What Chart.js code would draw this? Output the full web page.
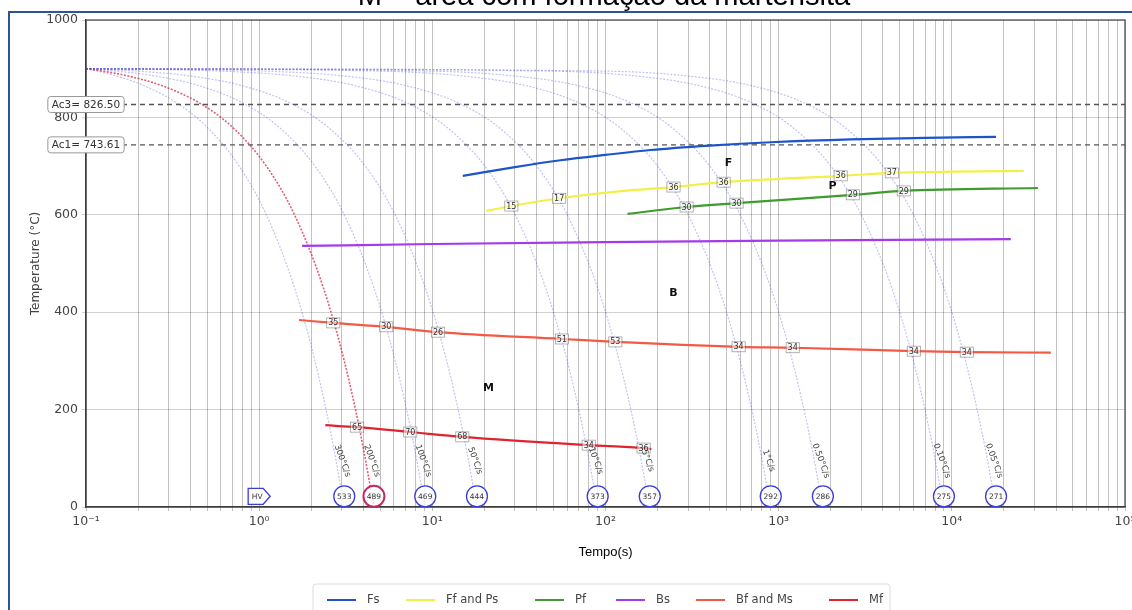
<!DOCTYPE html>
<html>
<head>
<meta charset="utf-8">
<script src="https://cdn.jsdelivr.net/npm/chart.js@4.4.1/dist/chart.umd.min.js"></script>
<style>
  html, body { margin: 0; padding: 0; background: #fff; }
  canvas { display: block; }
</style>
</head>
<body>
<canvas id="myChart" width="1132" height="610"></canvas>
<script>
// linhas de transformação (tempo s / temperatura °C)
const fsTempo = [15, 30, 55, 100, 182, 400, 900, 2600, 7000, 18000];
const fsTemp  = [680, 698, 712, 723, 733, 742, 749, 755, 758, 760];
const ffTempo = [20.5, 28.6, 54, 120, 247, 481, 2280, 4500, 26000];
const ffTemp  = [608, 618, 634, 648, 657, 667, 680, 686, 690];
const pfTempo = [134, 294, 571, 2680, 5280, 31400];
const pfTemp  = [602, 616, 624, 641, 649, 655];
const bsTempo = [1.77, 10, 100, 1000, 21900];
const bsTemp  = [536, 540, 544, 547, 550];
const bfTempo = [1.7, 2.68, 5.42, 10.8, 56, 114, 587, 1205, 6030, 12200, 37300];
const bfTemp  = [384, 378, 370, 359, 345, 339, 329, 327, 320, 318, 317];
const mfTempo = [2.41, 3.68, 7.46, 14.9, 80, 166, 184];
const mfTemp  = [168, 164, 154, 144, 127, 121, 119];

const ac3 = 826.50;
const ac1 = 743.61;

// curvas de resfriamento
const coolTemp = [900, 895, 885, 865, 830, 780, 700, 600, 450, 300, 150, 0];
const t300 = [0.1, 0.117, 0.15, 0.217, 0.333, 0.5, 0.767, 1.1, 1.6, 2.1, 2.6, 3.1];
const t200 = [0.1, 0.125, 0.175, 0.275, 0.45, 0.7, 1.1, 1.6, 2.35, 3.1, 3.85, 4.6];
const t100 = [0.1, 0.15, 0.25, 0.45, 0.8, 1.3, 2.1, 3.1, 4.6, 6.1, 7.6, 9.1];
const t50  = [0.1, 0.2, 0.4, 0.8, 1.5, 2.5, 4.1, 6.1, 9.1, 12.1, 15.1, 18.1];
const t10  = [0.1, 0.6, 1.6, 3.6, 7.1, 12.1, 20.1, 30.1, 45.1, 60.1, 75.1, 90.1];
const t5   = [0.1, 1.1, 3.1, 7.1, 14.1, 24.1, 40.1, 60.1, 90.1, 120.1, 150.1, 180.1];
const t1   = [0.1, 5, 15, 35, 70, 120, 200, 300, 450, 600, 750, 900];
const t05  = [0.1, 10, 30, 70, 140, 240, 400, 600, 900, 1200, 1500, 1800];
const t01  = [0.1, 50, 150, 350, 700, 1200, 2000, 3000, 4500, 6000, 7500, 9000];
const t005 = [0.1, 100, 300, 700, 1400, 2400, 4000, 6000, 9000, 12000, 15000, 18000];
const coolTempos = [t300, t200, t100, t50, t10, t5, t1, t05, t01, t005];
const rateTxt = ['300°C/s', '200°C/s', '100°C/s', '50°C/s', '10°C/s', '5°C/s', '1°C/s', '0.50°C/s', '0.10°C/s', '0.05°C/s'];
const hvTxt = ['533', '489', '469', '444', '373', '357', '292', '286', '275', '271'];
const critico = 1; // curva em vermelho

// percentuais marcados nas linhas
const markTempo = [28.6, 54, 247, 481, 2280, 4500, 294, 571, 2680, 5280,
  2.68, 5.42, 10.8, 56, 114, 587, 1205, 6030, 12200, 3.68, 7.46, 14.9, 80, 166];
const markTemp = [618, 634, 657, 667, 680, 686, 616, 624, 641, 649,
  378, 370, 359, 345, 339, 329, 327, 320, 318, 164, 154, 144, 127, 121];
const markTxt = ['15', '17', '36', '36', '36', '37', '30', '30', '29', '29',
  '35', '30', '26', '51', '53', '34', '34', '34', '34', '65', '70', '68', '34', '36'];

const regiaoTxt = ['F', 'P', 'B', 'M'];
const regiaoTempo = [514, 2050, 247, 21.1];
const regiaoTemp = [706, 659, 439, 244];

const legendaTxt = ['Fs', 'Ff and Ps', 'Pf', 'Bs', 'Bf and Ms', 'Mf'];
const cores = ['#1d55c9', '#f3ef4a', '#3f9a2f', '#a43be8', '#f25a46', '#e0242f'];

function pts(tx, ty) {
    return tx.map(function (t, i) { return {x: t, y: ty[i]}; });
}

const sup = {'-': '⁻', '0': '⁰', '1': '¹', '2': '²', '3': '³', '4': '⁴', '5': '⁵'};
function potencia(e) {
    return '10' + String(e).split('').map(function (c) { return sup[c]; }).join('');
}

const tickVals = [];
for (let e = -1; e <= 4; e++) {
    for (let m = 1; m <= 9; m++) tickVals.push(m * Math.pow(10, e));
}
tickVals.push(100000);

const datasets = [];
const linhas = [[fsTempo, fsTemp], [ffTempo, ffTemp], [pfTempo, pfTemp], [bsTempo, bsTemp], [bfTempo, bfTemp], [mfTempo, mfTemp]];
linhas.forEach(function (l, i) {
    datasets.push({
        label: legendaTxt[i], data: pts(l[0], l[1]),
        borderColor: cores[i], borderWidth: 2.2, pointRadius: 0,
        cubicInterpolationMode: 'monotone', order: 1
    });
});
[ac3, ac1].forEach(function (v) {
    datasets.push({
        data: [{x: 0.1, y: v}, {x: 100000, y: v}],
        borderColor: '#555', borderWidth: 1.4, borderDash: [5, 4], pointRadius: 0, order: 2
    });
});
coolTempos.forEach(function (tt, i) {
    const red = i === critico;
    datasets.push({
        data: pts(tt, coolTemp),
        borderColor: red ? 'rgba(215,40,70,0.75)' : 'rgba(70,70,220,0.33)',
        borderWidth: red ? 1.6 : 1.2, borderDash: [2, 1.5], pointRadius: 0,
        cubicInterpolationMode: 'monotone', order: 3
    });
});

const extras = {
    id: 'extras',
    beforeDraw: function (chart) {
        const c = chart.ctx;
        c.save(); c.fillStyle = '#fff'; c.fillRect(0, 0, chart.width, chart.height); c.restore();
    },
    afterDraw: function (chart) {
        const ctx = chart.ctx, xs = chart.scales.x, ys = chart.scales.y, a = chart.chartArea;
        ctx.save();

        // título (cortado no topo)
        const titulo = 'M = área com formação da martensita';
        ctx.save();
        ctx.beginPath(); ctx.rect(0, 0, 1132, 11); ctx.clip();
        ctx.font = '24px "Liberation Sans"';
        const size = 24 * 493 / ctx.measureText(titulo).width;
        ctx.font = size.toFixed(1) + 'px "Liberation Sans"';
        ctx.fillStyle = '#000'; ctx.textAlign = 'center'; ctx.textBaseline = 'alphabetic';
        ctx.fillText(titulo, 604, 5);
        ctx.restore();

        // moldura do slide
        ctx.strokeStyle = '#2f5496'; ctx.lineWidth = 2;
        ctx.beginPath(); ctx.moveTo(9, 610); ctx.lineTo(9, 12); ctx.lineTo(1132, 12); ctx.stroke();

        // contorno
        ctx.strokeStyle = '#444'; ctx.lineWidth = 1.2;
        ctx.strokeRect(a.left, a.top, a.right - a.left, a.bottom - a.top);

        // caixas Ac3 / Ac1
        ctx.font = '10.5px "DejaVu Sans"'; ctx.textAlign = 'center'; ctx.textBaseline = 'middle';
        [['Ac3= 826.50', ac3], ['Ac1= 743.61', ac1]].forEach(function (b) {
            const x = xs.getPixelForValue(0.1), y = ys.getPixelForValue(b[1]);
            const w = ctx.measureText(b[0]).width + 8;
            ctx.beginPath(); ctx.roundRect(x - w / 2, y - 8, w, 16, 3);
            ctx.fillStyle = '#fff'; ctx.fill();
            ctx.strokeStyle = '#999'; ctx.lineWidth = 1; ctx.stroke();
            ctx.fillStyle = '#333'; ctx.fillText(b[0], x, y + 0.5);
        });

        // percentuais nas linhas
        ctx.font = '8px "DejaVu Sans"';
        markTxt.forEach(function (s, i) {
            const x = xs.getPixelForValue(markTempo[i]), y = ys.getPixelForValue(markTemp[i]);
            const w = ctx.measureText(s).width + 3;
            ctx.fillStyle = 'rgba(255,255,255,0.55)'; ctx.fillRect(x - w / 2, y - 5, w, 10);
            ctx.strokeStyle = 'rgba(60,60,60,0.55)'; ctx.lineWidth = 0.7; ctx.strokeRect(x - w / 2, y - 5, w, 10);
            ctx.fillStyle = '#333'; ctx.fillText(s, x, y + 0.5);
        });

        // regiões
        ctx.font = 'bold 11px "DejaVu Sans"'; ctx.fillStyle = '#111';
        regiaoTxt.forEach(function (s, i) {
            ctx.fillText(s, xs.getPixelForValue(regiaoTempo[i]), ys.getPixelForValue(regiaoTemp[i]));
        });

        // velocidades de resfriamento e durezas
        coolTempos.forEach(function (tt, i) {
            const xe = xs.getPixelForValue(tt[tt.length - 1]);
            ctx.save();
            ctx.translate(xe - 2, ys.getPixelForValue(95));
            ctx.rotate(70 * Math.PI / 180);
            ctx.font = '8.5px "DejaVu Sans"'; ctx.fillStyle = '#444';
            ctx.fillText(rateTxt[i], 0, 0);
            ctx.restore();

            const yc = ys.getPixelForValue(22);
            ctx.beginPath(); ctx.arc(xe, yc, 10.5, 0, Math.PI * 2);
            ctx.fillStyle = 'rgba(255,255,255,0.8)'; ctx.fill();
            ctx.strokeStyle = i === critico ? '#c42860' : '#3b3bd8';
            ctx.lineWidth = i === critico ? 2 : 1.3; ctx.stroke();
            ctx.font = '7.5px "DejaVu Sans"'; ctx.fillStyle = '#333';
            ctx.fillText(hvTxt[i], xe, yc + 0.5);
        });

        // seta HV
        const hx = xs.getPixelForValue(1), hy = ys.getPixelForValue(22);
        ctx.beginPath();
        ctx.moveTo(hx - 11, hy - 8); ctx.lineTo(hx + 4, hy - 8); ctx.lineTo(hx + 11, hy);
        ctx.lineTo(hx + 4, hy + 8); ctx.lineTo(hx - 11, hy + 8); ctx.closePath();
        ctx.fillStyle = '#fff'; ctx.fill();
        ctx.strokeStyle = '#3b3bd8'; ctx.lineWidth = 1.3; ctx.stroke();
        ctx.font = '7.5px "DejaVu Sans"'; ctx.fillStyle = '#333';
        ctx.fillText('HV', hx - 2, hy + 0.5);

        // legenda
        ctx.beginPath(); ctx.roundRect(313, 584, 577, 30, 3);
        ctx.fillStyle = '#fff'; ctx.fill();
        ctx.strokeStyle = '#ddd'; ctx.lineWidth = 1; ctx.stroke();
        const lx = [327, 406, 535, 616, 696, 829];
        ctx.font = '11.5px "DejaVu Sans"'; ctx.textAlign = 'left';
        legendaTxt.forEach(function (s, i) {
            ctx.strokeStyle = cores[i]; ctx.lineWidth = 2;
            ctx.beginPath(); ctx.moveTo(lx[i], 600); ctx.lineTo(lx[i] + 29, 600); ctx.stroke();
            ctx.fillStyle = '#444'; ctx.fillText(s, lx[i] + 40, 600.5);
        });

        ctx.restore();
    }
};

new Chart(document.getElementById('myChart'), {
    type: 'line',
    data: {datasets: datasets},
    plugins: [extras],
    options: {
        responsive: false,
        animation: false,
        layout: {padding: {left: 0, top: 20, right: 7, bottom: 43}},
        plugins: {legend: {display: false}, tooltip: {enabled: false}},
        scales: {
            x: {
                type: 'logarithmic', min: 0.1, max: 100000,
                afterBuildTicks: function (s) { s.ticks = tickVals.map(function (v) { return {value: v}; }); },
                afterFit: function (s) { s.height = 60; s.paddingLeft = 0; s.paddingRight = 0; },
                ticks: {
                    autoSkip: false, maxRotation: 0, minRotation: 0, padding: 3,
                    color: '#444', font: {family: 'DejaVu Sans', size: 12.5},
                    callback: function (v) {
                        const e = Math.log10(v);
                        return Math.abs(e - Math.round(e)) < 1e-9 ? potencia(Math.round(e)) : '';
                    }
                },
                grid: {color: 'rgba(0,0,0,0.24)', tickLength: 4},
                border: {color: '#333', width: 1.2},
                title: {display: true, text: 'Tempo(s)', color: '#000',
                    font: {family: 'Liberation Sans', size: 13}, padding: {top: 0, bottom: 7}}
            },
            y: {
                min: 0, max: 1000,
                afterFit: function (s) { s.width = 86; s.paddingTop = 0; s.paddingBottom = 0; },
                ticks: {stepSize: 200, padding: 4, color: '#444', font: {family: 'DejaVu Sans', size: 12.5},
                    callback: function (v) { return String(v); }},
                grid: {color: 'rgba(0,0,0,0.18)', tickLength: 4},
                border: {color: '#333', width: 1.2},
                title: {display: true, text: 'Temperature (°C)', color: '#444',
                    font: {family: 'DejaVu Sans', size: 12}, padding: {top: 29, bottom: 0}}
            }
        }
    }
});
</script>
</body>
</html>
